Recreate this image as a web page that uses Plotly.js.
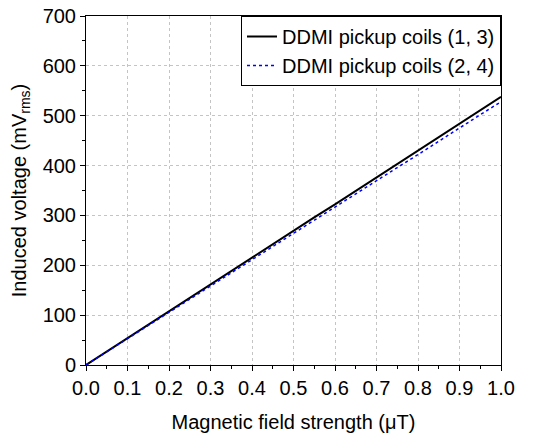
<!DOCTYPE html>
<html><head><meta charset="utf-8">
<script src="https://cdn.plot.ly/plotly-3.0.1.min.js"></script>
<style>html,body{margin:0;padding:0;background:#fff}#c{width:549px;height:439px}</style>
</head><body><div id="c"></div>
<script>
var fieldStrength = [0,0.05,0.1,0.15,0.2,0.25,0.3,0.35,0.4,0.45,0.5,0.55,0.6,0.65,0.7,0.75,0.8,0.85,0.9,0.95,1.0];
var coils13 = [0,27,54,81,108,134,161,188,215,242,269,296,322,349,376,403,430,457,484,511,538];
var coils24 = [0,26.5,53,79,106,132,158,185,211,238,264,290,317,343,370,396,422,449,475,502,528];
var seriesNames = ["DDMI pickup coils (1, 3)", "DDMI pickup coils (2, 4)"];

var fnt = {family: "Liberation Sans, Arial, sans-serif", size: 20, color: "#000"};
var traces = [
  {x: fieldStrength, y: coils13, mode: "lines", name: seriesNames[0], line: {color: "#000000", width: 2}},
  {x: fieldStrength, y: coils24, mode: "lines", name: seriesNames[1], line: {color: "#0000ff", width: 1.5, dash: "dot"}}
];
var axisCommon = {
  showline: true, linecolor: "#000", linewidth: 1, mirror: true,
  ticks: "outside", ticklen: 5, tickwidth: 1, tickcolor: "#000",
  showgrid: true, gridcolor: "#c4c4c4", griddash: "dot", gridwidth: 1,
  zeroline: false, tickfont: fnt
};
var layout = {
  width: 549, height: 439,
  margin: {l: 86, r: 48, t: 16, b: 74},
  paper_bgcolor: "#fff", plot_bgcolor: "#fff",
  font: fnt,
  showlegend: true,
  legend: {x: 1, xanchor: "right", y: 1, yanchor: "top", bgcolor: "#fff", bordercolor: "#000", borderwidth: 1, font: fnt, tracegroupgap: 0},
  xaxis: Object.assign({}, axisCommon, {
    range: [0, 1.0], tick0: 0, dtick: 0.1, tickformat: ".1f",
    minor: {dtick: 0.05, ticklen: 3, tickcolor: "#000", ticks: "outside", showgrid: false},
    title: {text: "Magnetic field strength (μT)", font: fnt, standoff: 16}
  }),
  yaxis: Object.assign({}, axisCommon, {
    range: [0, 700], tick0: 0, dtick: 100,
    minor: {dtick: 50, ticklen: 3, tickcolor: "#000", ticks: "outside", showgrid: false},
    title: {text: "Induced voltage (mV<sub>rms</sub>)", font: fnt, standoff: 10}
  })
};
Plotly.newPlot("c", traces, layout, {displayModeBar: false, staticPlot: true});
</script></body></html>
